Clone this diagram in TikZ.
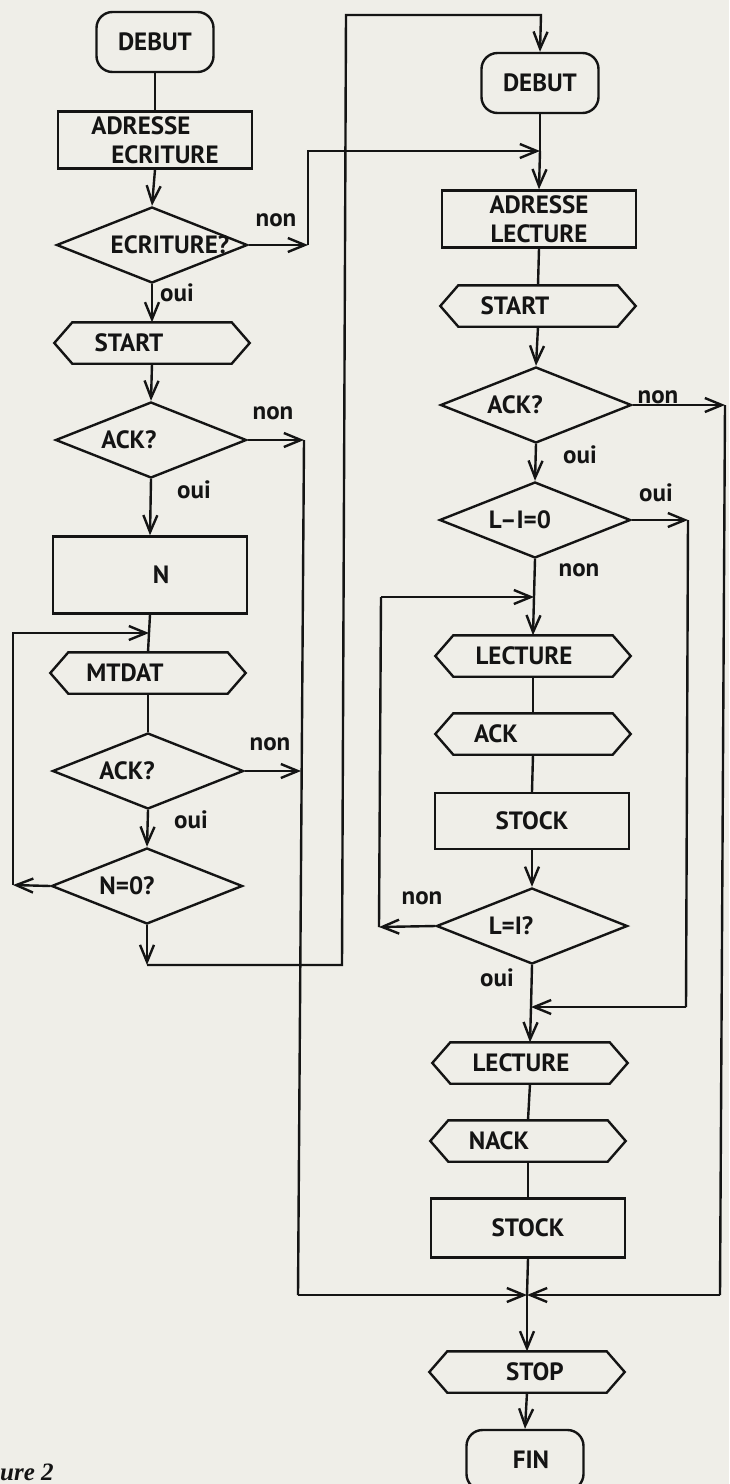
\documentclass[tikz,border=0pt]{standalone}
\usepackage{fontspec}
\setmainfont{PT Sans}
\newfontfamily\capfont{Liberation Serif}
\usetikzlibrary{arrows.meta,shapes.geometric}
\definecolor{paper}{RGB}{239,238,232}
\definecolor{ink}{RGB}{20,20,20}
\newcommand\sh[2]{\makebox[0pt]{\hspace*{#1}#2}}
\tikzset{
  base/.style={draw=ink, line width=2.4pt, font=\fontsize{25}{29}\selectfont\bfseries, text=ink, inner sep=0pt},
  term/.style={base, rectangle, rounded corners=16pt, minimum width=117pt, minimum height=60pt},
  proc/.style={base, rectangle, minimum width=194pt, minimum height=57pt, align=center},
  hexa/.style={base, draw=none, rectangle, minimum width=193pt, minimum height=39pt,
    append after command={\pgfextra{\draw[draw=ink, line width=2.4pt, line join=miter]
      (\tikzlastnode.west) -- ([xshift=18pt]\tikzlastnode.north west)
      -- ([xshift=-18pt]\tikzlastnode.north east) -- (\tikzlastnode.east)
      -- ([xshift=-18pt]\tikzlastnode.south east)
      -- ([xshift=18pt]\tikzlastnode.south west) -- cycle;}}},
  dec/.style={base, diamond, aspect=2.5, minimum width=191pt, minimum height=76pt},
  lbl/.style={font=\fontsize{25}{29}\selectfont\bfseries, text=ink, inner sep=0pt},
  ln/.style={draw=ink, line width=2.4pt, line join=miter},
  arr/.style={ln, -{Straight Barb[length=17pt,width=14pt]}}
}
\begin{document}
\begin{tikzpicture}[x=1pt,y=-1pt]
\fill[paper] (0,0) rectangle (729,1484);
\useasboundingbox (0,0) rectangle (729,1484);

% ---------- left column ----------
\node[term] (debutL) at (155,42) {DEBUT};
\node[proc, align=left] (adrE) at (155,140) {ADRESSE\\\hspace*{20pt}ECRITURE};
\node[dec] (ecr) at (152,245) {\sh{36pt}{ECRITURE?}};
\node[hexa] (startL) at (152,343) {\sh{-46pt}{START}};
\node[dec] (ackL) at (151,440) {\sh{-44pt}{ACK?}};
\node[proc, minimum height=77pt] (nbox) at (150,575) {\sh{22pt}{N}};
\node[hexa] (mtdat) at (148,673) {\sh{-46pt}{MTDAT}};
\node[dec] (ackL2) at (148,771) {\sh{-42pt}{ACK?}};
\node[dec] (nzero) at (147,886) {\sh{-40pt}{N=0?}};

% ---------- right column ----------
\node[term] (debutR) at (540,83) {DEBUT};
\node[proc] (adrL) at (539,219) {ADRESSE\\LECTURE};
\node[hexa] (startR) at (538,306) {\sh{-46pt}{START}};
\node[dec] (ackR) at (536,405) {\sh{-42pt}{ACK?}};
\node[dec] (lzero) at (535,520) {\sh{-30pt}{L--I=0}};
\node[hexa] (lect1) at (533,656) {\sh{-18pt}{LECTURE}};
\node[hexa] (ackR2) at (533,734) {\sh{-74pt}{ACK}};
\node[proc, minimum height=56pt] (stock1) at (532,821) {STOCK};
\node[dec] (lone) at (532,926) {\sh{-42pt}{L=I?}};
\node[hexa] (lect2) at (530,1063) {\sh{-18pt}{LECTURE}};
\node[hexa] (nack) at (528,1141) {\sh{-58pt}{NACK}};
\node[proc, minimum height=59pt] (stock2) at (528,1228) {STOCK};
\node[hexa] (stop) at (527,1372) {\sh{16pt}{STOP}};
\node[term] (fin) at (525,1460) {\sh{12pt}{FIN}};

% ---------- labels ----------
\node[lbl] (l1) at (276,220) {non};
\node[lbl] (l2) at (177,293) {oui};
\node[lbl] (l3) at (273,413) {non};
\node[lbl] (l4) at (194,490) {oui};
\node[lbl] (l5) at (270,744) {non};
\node[lbl] (l6) at (191,820) {oui};
\node[lbl] (l7) at (658,397) {non};
\node[lbl] (l8) at (580,455) {oui};
\node[lbl] (l9) at (656,493) {oui};
\node[lbl] (l10) at (579,570) {non};
\node[lbl] (l11) at (422,898) {non};
\node[lbl] (l12) at (497,978) {oui};
\node[font=\capfont\bfseries\itshape\fontsize{25}{28}\selectfont, text=ink, inner sep=0pt, anchor=base west] (cap) at (0,1480) {ure 2};

% ---------- coordinates ----------
\coordinate (jE) at (308,245);
\coordinate (jAL) at (540,151);
\coordinate (jA1) at (304,440);
\coordinate (jA2) at (301,771);
\coordinate (bL) at (298,1295);
\coordinate (jEnd) at (527,1295);
\coordinate (bR) at (720,1295);
\coordinate (jR1) at (725,405);
\coordinate (jO) at (688,520);
\coordinate (cO) at (686,1007);
\coordinate (jIn2) at (531,1007);
\coordinate (jIn1) at (534,597);
\coordinate (cLi) at (379,927);
\coordinate (tLi) at (381,597);
\coordinate (jN) at (149,633);
\coordinate (cLL) at (13,885);
\coordinate (tLL) at (13,633);
\coordinate (cN0) at (147,965);
\coordinate (bV) at (342,965);
\coordinate (tV) at (346,15);
\coordinate (tR) at (541,15);

% ---------- left connectors ----------
\draw[ln] (debutL) -- (adrE);
\draw[arr] (adrE.south) -- (ecr.north);
\draw[arr] (ecr.south) -- (startL.north);
\draw[arr] (startL.south) -- (ackL.north);
\draw[arr] (ackL.south) -- (nbox.north);
\draw[ln] (nbox.south) -- (jN);
\draw[ln] (jN) -- (mtdat.north);
\draw[ln] (mtdat.south) -- (ackL2.north);
\draw[arr] (ackL2.south) -- (nzero.north);
\draw[arr] (nzero.west) -- (cLL);
\draw[arr] (cLL) -- (tLL) -- (jN);
\draw[arr] (nzero.south) -- (cN0);
\draw[arr] (cN0) -- (bV) -- (tV) -- (tR) -- (debutR.north);
\draw[arr] (ecr.east) -- (jE);
\draw[arr] (jE) -- (jE |- jAL) -- (jAL);
\draw[arr] (ackL.east) -- (jA1);
\draw[ln] (jA1) -- (bL);
\draw[arr] (ackL2.east) -- (jA2);
\draw[arr] (bL) -- (jEnd);

% ---------- right connectors ----------
\draw[ln] (debutR.south) -- (jAL);
\draw[arr] (jAL) -- (adrL.north);
\draw[ln] (adrL.south) -- (startR.north);
\draw[arr] (startR.south) -- (ackR.north);
\draw[arr] (ackR.south) -- (lzero.north);
\draw[arr] (ackR.east) -- (jR1);
\draw[ln] (jR1) -- (bR);
\draw[arr] (bR) -- (jEnd);
\draw[arr] (lzero.east) -- (jO);
\draw[ln] (jO) -- (cO);
\draw[arr] (cO) -- (jIn2);
\draw[ln] (lzero.south) -- (jIn1);
\draw[arr] (jIn1) -- (lect1.north);
\draw[ln] (lect1.south) -- (ackR2.north);
\draw[ln] (ackR2.south) -- (stock1.north);
\draw[arr] (stock1.south) -- (lone.north);
\draw[arr] (lone.west) -- (cLi);
\draw[ln] (cLi) -- (tLi);
\draw[arr] (tLi) -- (jIn1);
\draw[ln] (lone.south) -- (jIn2);
\draw[arr] (jIn2) -- (lect2.north);
\draw[ln] (lect2.south) -- (nack.north);
\draw[ln] (nack.south) -- (stock2.north);
\draw[ln] (stock2.south) -- (jEnd);
\draw[arr] (jEnd) -- (stop.north);
\draw[arr] (stop.south) -- (fin.north);
\end{tikzpicture}
\end{document}
